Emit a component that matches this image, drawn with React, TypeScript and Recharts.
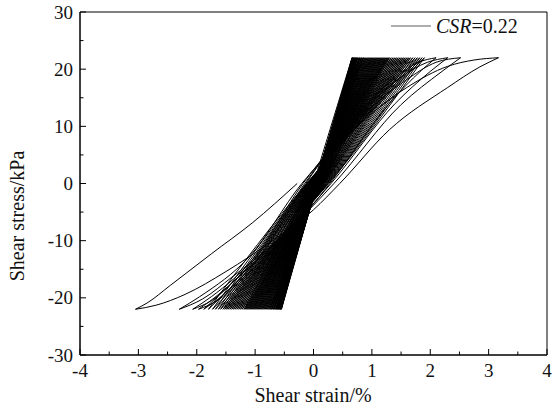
import { LineChart, Line, XAxis, YAxis, ReferenceArea, Label } from 'recharts'

const FONT = 'Liberation Serif'

// stress amplitude of every cycle (kPa)
const PEAK = 22

// strain at each positive stress peak, dense cycles (%)
const posPeaks = [
  0.66, 0.665, 0.67, 0.675, 0.68, 0.69, 0.7, 0.71, 0.72, 0.73,
  0.74, 0.75, 0.76, 0.78, 0.79, 0.8, 0.82, 0.83, 0.85, 0.86,
  0.88, 0.9, 0.92, 0.94, 0.96, 0.98, 1.0, 1.02, 1.04, 1.06,
  1.08, 1.1, 1.12, 1.14, 1.16, 1.18, 1.2, 1.22, 1.24, 1.26,
  1.28, 1.3, 1.33, 1.36, 1.39, 1.42, 1.45, 1.48, 1.51, 1.54,
  1.57, 1.6, 1.63, 1.66, 1.7, 1.74, 1.78, 1.82, 1.86, 1.9,
]
// strain at each negative stress peak, dense cycles (%)
const negPeaks = [
  -0.55, -0.555, -0.56, -0.565, -0.57, -0.58, -0.59, -0.6, -0.61, -0.62,
  -0.63, -0.64, -0.65, -0.67, -0.68, -0.69, -0.71, -0.72, -0.74, -0.75,
  -0.77, -0.79, -0.81, -0.83, -0.85, -0.87, -0.89, -0.91, -0.93, -0.95,
  -0.97, -0.99, -1.01, -1.03, -1.05, -1.07, -1.09, -1.11, -1.13, -1.15,
  -1.17, -1.19, -1.22, -1.25, -1.28, -1.31, -1.34, -1.37, -1.4, -1.43,
  -1.46, -1.49, -1.52, -1.55, -1.59, -1.63, -1.68, -1.73, -1.8, -1.88,
]
// strain where loading / unloading branches cross zero stress
const loadZero = [
  0.04, 0.04, 0.04, 0.04, 0.04, 0.03, 0.03, 0.03, 0.03, 0.03,
  0.02, 0.02, 0.02, 0.02, 0.02, 0.01, 0.01, 0.01, 0.01, 0.01,
  0.0, 0.0, 0.0, 0.0, 0.0, -0.01, -0.01, -0.01, -0.01, -0.01,
  -0.02, -0.02, -0.02, -0.02, -0.02, -0.03, -0.03, -0.03, -0.03, -0.03,
  -0.04, -0.04, -0.04, -0.04, -0.05, -0.05, -0.05, -0.06, -0.06, -0.06,
  -0.07, -0.07, -0.08, -0.08, -0.09, -0.09, -0.1, -0.1, -0.11, -0.12,
]
const unloadZero = [
  0.06, 0.06, 0.06, 0.06, 0.06, 0.07, 0.07, 0.07, 0.07, 0.07,
  0.08, 0.08, 0.08, 0.08, 0.08, 0.09, 0.09, 0.09, 0.09, 0.09,
  0.1, 0.1, 0.1, 0.1, 0.1, 0.11, 0.11, 0.11, 0.11, 0.11,
  0.12, 0.12, 0.12, 0.12, 0.12, 0.13, 0.13, 0.13, 0.13, 0.13,
  0.14, 0.14, 0.14, 0.15, 0.15, 0.15, 0.16, 0.16, 0.17, 0.17,
  0.18, 0.18, 0.19, 0.2, 0.21, 0.22, 0.23, 0.24, 0.25, 0.26,
]

// last, wide loops read point by point: [strain, stress]
const outerBranches: number[][][] = [
  [[-1.88, -22], [-1.55, -19.5], [-0.9, -12.5], [-0.13, 0], [0.7, 11.5], [1.4, 18.5], [1.8, 21.2], [2.1, 22]],
  [[2.1, 22], [1.85, 19.8], [1.3, 14], [0.28, 0], [-0.5, -9.5], [-1.2, -16.5], [-1.65, -20.5], [-1.97, -22]],
  [[-1.97, -22], [-1.65, -19.6], [-0.95, -12.5], [-0.15, 0], [0.7, 11], [1.5, 18.6], [1.95, 21.2], [2.3, 22]],
  [[2.3, 22], [2.0, 19.6], [1.4, 14], [0.3, 0], [-0.55, -9.5], [-1.3, -16.5], [-1.75, -20.5], [-2.07, -22]],
  [[-2.07, -22], [-1.75, -19.8], [-1.0, -12.8], [-0.18, 0], [0.75, 11], [1.6, 18.2], [2.1, 21.2], [2.52, 22]],
  [[2.52, 22], [2.2, 19.6], [1.5, 13.8], [0.35, 0], [-0.6, -9.8], [-1.4, -16.4], [-1.9, -20.2], [-2.3, -22]],
  [[-2.3, -22], [-1.95, -19.8], [-1.1, -12.8], [-0.2, 0], [0.8, 10.5], [1.6, 16.8], [2.3, 20.5], [2.75, 21.6], [3.17, 22]],
  [[3.17, 22], [2.85, 20.4], [2.3, 16.8], [1.3, 9.4], [0.45, 0], [0.0, -4.6], [-0.7, -10], [-1.5, -15.4], [-2.2, -19.4], [-2.7, -21.3], [-3.05, -22]],
  [[-3.05, -22], [-2.85, -20.9], [-2.45, -17.8], [-1.75, -12.3], [-1.05, -6.9], [-0.28, 0]],
]

const xTicks = [-4, -3.5, -3, -2.5, -2, -1.5, -1, -0.5, 0, 0.5, 1, 1.5, 2, 2.5, 3, 3.5, 4]
const yTicks = [-30, -25, -20, -15, -10, -5, 0, 5, 10, 15, 20, 25, 30]

type Pt = { x: number; y: number }

const branches: Pt[][] = []
posPeaks.forEach((p, i) => {
  if (i === 0) branches.push([{ x: 0, y: 0 }, { x: p, y: PEAK }])
  else branches.push([{ x: negPeaks[i - 1], y: -PEAK }, { x: loadZero[i], y: 0 }, { x: p, y: PEAK }])
  branches.push([{ x: p, y: PEAK }, { x: unloadZero[i], y: 0 }, { x: negPeaks[i], y: -PEAK }])
})
outerBranches.forEach(b => branches.push(b.map(([x, y]) => ({ x, y }))))

const textStyle = { fontFamily: FONT, fill: '#111' }

const XTick = (props: any) => {
  const { x, y, payload } = props
  const major = Number.isInteger(payload.value)
  return (
    <g>
      <line x1={x} x2={x} y1={y} y2={y - (major ? 6 : 3.5)} stroke="#000" />
      {major && (
        <text x={x} y={y + 22} textAnchor="middle" fontSize={19} style={textStyle}>
          {payload.value}
        </text>
      )}
    </g>
  )
}

const YTick = (props: any) => {
  const { x, y, payload } = props
  const major = payload.value % 10 === 0
  return (
    <g>
      <line x1={x} x2={x + (major ? 6 : 3.5)} y1={y} y2={y} stroke="#000" />
      {major && (
        <text x={x - 7} y={y} dy="0.35em" textAnchor="end" fontSize={19} style={textStyle}>
          {payload.value}
        </text>
      )}
    </g>
  )
}

export default function App() {
  return (
    <div style={{ position: 'absolute', left: 0, top: 0, width: 552, height: 408, background: '#fff', fontFamily: FONT }}>
      <LineChart width={552} height={408} margin={{ top: 12, right: 5, bottom: 0, left: 10 }}>
        <XAxis
          type="number"
          dataKey="x"
          domain={[-4, 4]}
          ticks={xTicks}
          interval={0}
          tickSize={0}
          tickMargin={0}
          tickLine={false}
          tick={<XTick />}
          height={53}
          axisLine={{ stroke: '#000' }}
          allowDataOverflow
        >
          <Label
            content={() => (
              <text x={313} y={402} textAnchor="middle" fontSize={20} style={textStyle}>
                Shear strain/%
              </text>
            )}
          />
        </XAxis>
        <YAxis
          type="number"
          domain={[-30, 30]}
          ticks={yTicks}
          interval={0}
          tickSize={0}
          tickMargin={0}
          tickLine={false}
          tick={<YTick />}
          width={70}
          axisLine={{ stroke: '#000' }}
          allowDataOverflow
        >
          <Label
            content={() => (
              <text transform="translate(24,216) rotate(-90)" textAnchor="middle" fontSize={20} style={textStyle}>
                Shear stress/kPa
              </text>
            )}
          />
        </YAxis>
        <ReferenceArea x1={-4} x2={4} y1={-30} y2={30} fill="none" stroke="#000" strokeWidth={1} />
        {branches.map((b, i) => (
          <Line
            key={i}
            data={b}
            dataKey="y"
            type="monotone"
            stroke="#000"
            strokeWidth={1}
            dot={false}
            activeDot={false}
            isAnimationActive={false}
            legendType="none"
          />
        ))}
      </LineChart>
      <div style={{ position: 'absolute', left: 391, top: 15, display: 'flex', alignItems: 'center' }}>
        <svg width={40} height={4}>
          <line x1={0} x2={40} y1={2} y2={2} stroke="#333" strokeWidth={0.8} />
        </svg>
        <span style={{ fontSize: 20, marginLeft: 5, color: '#111', lineHeight: '22px' }}>
          <i>CSR</i>=0.22
        </span>
      </div>
    </div>
  )
}
